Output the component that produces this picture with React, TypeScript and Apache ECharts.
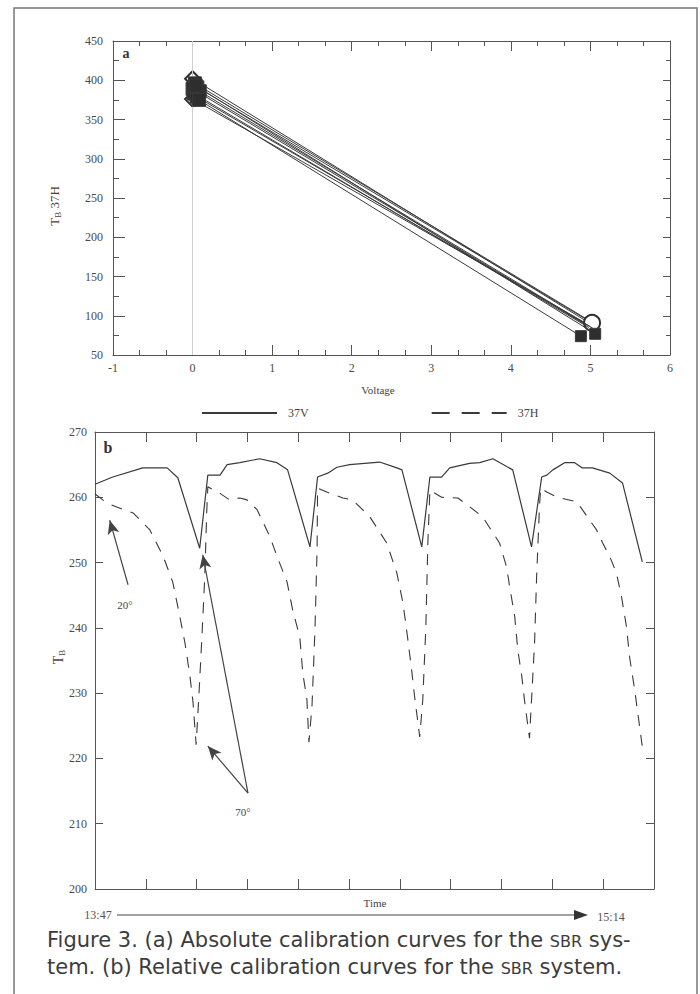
import React, { useEffect, useRef } from 'react';
import * as echarts from 'echarts';

// ---- Chart (a): absolute calibration lines (T_B 37H vs voltage) ----
const hotVoltage = [0.0, 0.0, 0.03, 0.06, 0.0, 0.09, 0.02, 0.05, 0.08, 0.04];
const hotTB = [402, 376, 396, 391, 389, 386, 383, 379, 375, 393];
const hotSymbol = ['emptyDiamond', 'emptyDiamond', 'rect', 'rect', 'rect', 'rect', 'rect', 'rect', 'rect', 'rect'];
const coldVoltage = [5.0, 4.97, 5.0, 5.02, 4.95, 5.0, 4.98, 5.03, 4.88, 5.06];
const coldTB = [90, 89, 93, 91, 88, 86, 85, 84, 74, 77];
const coldSymbol = ['none', 'none', 'none', 'emptyCircle', 'none', 'none', 'none', 'none', 'rect', 'rect'];
const voltageTicks = [-1, 6, 1];
const tbTicksA = [50, 450, 50];

// ---- Chart (b): relative calibration curves ----
const time37V = [0, 3.5, 9.4, 14.2, 16.3, 20.6, 22.2, 24.6, 26.0, 28.5, 32.4, 35.8, 37.9, 42.3, 43.8, 45.8, 47.6, 50.1, 56.0, 59.4, 60.4, 64.3, 65.9, 68.2, 69.8, 73.7, 75.7, 78.3, 82.2, 85.9, 87.9, 88.9, 90.1, 92.4, 94.4, 95.9, 97.9, 101.3, 103.8, 107.7];
const tb37V = [262, 263.1, 264.5, 264.5, 263, 252.2, 263.4, 263.4, 265, 265.3, 265.9, 265.3, 264.2, 252.4, 263.1, 263.7, 264.6, 265, 265.4, 264.5, 264.2, 252.4, 263.1, 263.1, 264.5, 265.2, 265.3, 265.9, 264.2, 252.4, 263.1, 263.4, 264.2, 265.3, 265.3, 264.5, 264.5, 263.7, 262.2, 250.1];
const time37H = [0, 2.4, 4.3, 7.5, 10.8, 13.4, 15.3, 16.7, 17.7, 18.7, 19.3, 19.9, 20.4, 21.0, 21.6, 22.0, 22.2, 24.6, 26.5, 28.5, 29.9, 31.9, 34.4, 35.8, 37.8, 38.9, 40.3, 40.9, 41.7, 42.1, 42.7, 43.3, 43.7, 43.8, 45.6, 48.8, 50.7, 54.1, 57.4, 59.4, 60.6, 61.5, 62.3, 62.9, 63.9, 64.5, 65.1, 65.5, 65.9, 68.2, 71.4, 73.3, 76.3, 79.6, 81.0, 81.6, 82.6, 83.2, 84.0, 84.5, 85.5, 85.9, 86.5, 86.9, 87.5, 87.7, 88.9, 91.0, 94.8, 95.9, 98.7, 99.9, 101.3, 102.6, 103.6, 104.6, 105.2, 106.2, 107.7];
const tb37H = [260.5, 259.1, 258.5, 257.6, 255, 251, 247, 241.7, 237.7, 232.5, 228.5, 222.1, 229, 238, 247.8, 258, 261.6, 260.6, 259.6, 259.9, 259.6, 258.1, 254, 251, 247, 242.7, 238.6, 233, 229, 222.5, 228, 240, 252, 261.4, 260.8, 259.9, 259.6, 257, 253, 248.4, 243.8, 238.6, 233.6, 229.4, 223.3, 229, 240, 253, 261.1, 260, 259.9, 258.8, 257, 253, 249.3, 246.3, 241.7, 236.6, 232.5, 229, 223.1, 229, 237.7, 247.8, 259.1, 261.4, 260.8, 260, 259.3, 258.1, 255, 253, 250.9, 248.4, 244.8, 240.1, 235.5, 230.5, 221.8];
const timeTicks = [0, 110, 10];
const tbTicksB = [200, 270, 10];

// annotation arrows (data coordinates of chart b)
const arrowFrom = [[6.5, 246.6], [30.1, 214.7], [30.1, 214.7]];
const arrowTo = [[2.9, 256.5], [21.2, 251.2], [22.2, 221.9]];
const angleLabels = ['20°', '70°'];
const angleLabelPos = [[5.9, 243.5], [29.1, 211.8]];

const SERIF = '"Liberation Serif", "DejaVu Serif", serif';
const CAPTION = '"DejaVu Sans", "Liberation Sans", sans-serif';
const INK = '#3a3a3a';
const AXIS = '#555';
const LABEL = '#4a4a4a';

export default function App() {
  const ref = useRef<HTMLDivElement>(null);
  useEffect(() => {
    if (!ref.current) return;
    const chart = echarts.init(ref.current, undefined, { renderer: 'svg' });

    const labelStyle = { fontFamily: SERIF, fontSize: 12, color: LABEL };
    const axisLine = { show: true, onZero: false, lineStyle: { color: AXIS, width: 1 } };

    const seriesA: any[] = hotTB.map((h, i) => ({
      type: 'line',
      xAxisIndex: 0,
      yAxisIndex: 0,
      silent: true,
      lineStyle: { color: INK, width: 1 },
      itemStyle: { color: '#2e2e2e', borderColor: INK, borderWidth: 1 },
      data: [
        { value: [hotVoltage[i], h], symbol: hotSymbol[i], symbolSize: hotSymbol[i] === 'rect' ? 13 : 15 },
        { value: [coldVoltage[i], coldTB[i]], symbol: coldSymbol[i], symbolSize: coldSymbol[i] === 'rect' ? 11 : 16 },
      ],
      markLine: i === 0 ? {
        silent: true,
        symbol: 'none',
        label: { show: false },
        lineStyle: { color: '#cfcfcf', width: 1, type: 'solid' },
        data: [{ xAxis: 0 }],
      } : undefined,
      z: 3 + i,
    }));

    const capRich = {
      n: { fontFamily: CAPTION, fontSize: 21, fill: '#3c3c3c', verticalAlign: 'bottom', lineHeight: 26 },
      c: { fontFamily: CAPTION, fontSize: 16, fill: '#3c3c3c', verticalAlign: 'bottom', lineHeight: 26, padding: [0, 0, 1, 0] },
    };

    const option: any = {
      animation: false,
      backgroundColor: '#fff',
      textStyle: { color: LABEL, fontFamily: SERIF },
      grid: [
        { left: 113, top: 41, width: 557, height: 314 },
        { left: 95, top: 432, width: 559, height: 457 },
      ],
      xAxis: [
        {
          gridIndex: 0, type: 'value', min: voltageTicks[0], max: voltageTicks[1], interval: voltageTicks[2],
          axisLine, axisTick: { inside: true, length: 10, lineStyle: { color: AXIS } },
          minorTick: { show: true, splitNumber: 3, length: 5, lineStyle: { color: AXIS } },
          axisLabel: { ...labelStyle, margin: 7 }, splitLine: { show: false },
        },
        {
          gridIndex: 0, type: 'value', position: 'top', min: voltageTicks[0], max: voltageTicks[1], interval: voltageTicks[2],
          axisLine, axisTick: { inside: true, length: 10, lineStyle: { color: AXIS } },
          minorTick: { show: true, splitNumber: 3, length: 5, lineStyle: { color: AXIS } },
          axisLabel: { show: false }, splitLine: { show: false },
        },
        {
          gridIndex: 1, type: 'value', min: timeTicks[0], max: timeTicks[1], interval: timeTicks[2],
          axisLine, axisTick: { inside: true, length: 10, lineStyle: { color: AXIS } },
          axisLabel: { show: false }, splitLine: { show: false },
        },
        {
          gridIndex: 1, type: 'value', position: 'top', min: timeTicks[0], max: timeTicks[1], interval: timeTicks[2],
          axisLine, axisTick: { inside: true, length: 10, lineStyle: { color: AXIS } },
          axisLabel: { show: false }, splitLine: { show: false },
        },
      ],
      yAxis: [
        {
          gridIndex: 0, type: 'value', min: tbTicksA[0], max: tbTicksA[1], interval: tbTicksA[2],
          axisLine, axisTick: { inside: true, length: 12, lineStyle: { color: AXIS } },
          minorTick: { show: true, splitNumber: 2, length: 6, lineStyle: { color: AXIS } },
          axisLabel: { ...labelStyle, margin: 10 }, splitLine: { show: false },
        },
        {
          gridIndex: 0, type: 'value', position: 'right', min: tbTicksA[0], max: tbTicksA[1], interval: tbTicksA[2],
          axisLine, axisTick: { inside: true, length: 7, lineStyle: { color: AXIS } },
          minorTick: { show: true, splitNumber: 2, length: 4, lineStyle: { color: AXIS } },
          axisLabel: { show: false }, splitLine: { show: false },
        },
        {
          gridIndex: 1, type: 'value', min: tbTicksB[0], max: tbTicksB[1], interval: tbTicksB[2],
          axisLine, axisTick: { inside: true, length: 8, lineStyle: { color: AXIS } },
          axisLabel: { ...labelStyle, margin: 8 }, splitLine: { show: false },
        },
        {
          gridIndex: 1, type: 'value', position: 'right', min: tbTicksB[0], max: tbTicksB[1], interval: tbTicksB[2],
          axisLine, axisTick: { inside: true, length: 8, lineStyle: { color: AXIS } },
          axisLabel: { show: false }, splitLine: { show: false },
        },
      ],
      legend: {
        data: [
          { name: '37V' },
          { name: '37H', lineStyle: { type: [18, 12] } },
        ],
        left: 196,
        top: 402,
        itemWidth: 75,
        itemHeight: 10,
        itemGap: 122,
        selectedMode: false,
        itemStyle: { opacity: 0 },
        textStyle: { fontFamily: SERIF, fontSize: 12, color: '#444', padding: [0, 0, 0, 6] },
      },
      series: [
        ...seriesA,
        {
          name: '37V', type: 'line', xAxisIndex: 2, yAxisIndex: 2, symbol: 'none', silent: true,
          lineStyle: { color: INK, width: 1.2 },
          itemStyle: { color: INK },
          data: time37V.map((t, i) => [t, tb37V[i]]),
          markLine: {
            silent: true,
            symbol: ['none', 'arrow'],
            symbolSize: [9, 14],
            label: { show: false },
            lineStyle: { color: '#444', width: 1.2, type: 'solid' },
            data: arrowFrom.map((f, i) => [{ coord: f }, { coord: arrowTo[i] }]),
          },
          markPoint: {
            silent: true,
            symbol: 'circle',
            symbolSize: 0,
            label: { show: true, position: 'inside', fontFamily: SERIF, fontSize: 11, color: '#444' },
            data: angleLabels.map((l, i) => ({ coord: angleLabelPos[i], value: l, label: { formatter: l } })),
          },
        },
        {
          name: '37H', type: 'line', xAxisIndex: 2, yAxisIndex: 2, symbol: 'none', silent: true,
          lineStyle: { color: INK, width: 1.1, type: [11, 9] },
          itemStyle: { color: INK },
          data: time37H.map((t, i) => [t, tb37H[i]]),
        },
      ],
      graphic: [
        { type: 'rect', shape: { x: 14, y: 8, width: 683, height: 1000 }, style: { fill: 'none', stroke: '#777', lineWidth: 1.5 }, silent: true },
        { type: 'text', x: 126, y: 53, style: { text: 'a', font: `bold 14px ${SERIF}`, fill: '#333', align: 'center', verticalAlign: 'middle' } },
        { type: 'text', x: 108, y: 447, style: { text: 'b', font: `bold 16px ${SERIF}`, fill: '#333', align: 'center', verticalAlign: 'middle' } },
        { type: 'text', x: 378, y: 390, style: { text: 'Voltage', font: `11px ${SERIF}`, fill: '#444', align: 'center', verticalAlign: 'middle' } },
        { type: 'text', x: 375, y: 903, style: { text: 'Time', font: `11px ${SERIF}`, fill: '#444', align: 'center', verticalAlign: 'middle' } },
        {
          type: 'text', x: 54, y: 206, rotation: Math.PI / 2,
          style: {
            text: '{t|T}{s|B}{t| 37H}', align: 'center', verticalAlign: 'middle', fill: '#444',
            rich: {
              t: { fontFamily: SERIF, fontSize: 13, fill: '#444', verticalAlign: 'middle' },
              s: { fontFamily: SERIF, fontSize: 9, fill: '#444', padding: [8, 0, 0, 0] },
            },
          },
        },
        {
          type: 'text', x: 58, y: 657, rotation: Math.PI / 2,
          style: {
            text: '{t|T}{s|B}', align: 'center', verticalAlign: 'middle', fill: '#444',
            rich: {
              t: { fontFamily: SERIF, fontSize: 14, fill: '#444' },
              s: { fontFamily: SERIF, fontSize: 9, fill: '#444', padding: [8, 0, 0, 0] },
            },
          },
        },
        { type: 'line', shape: { x1: 117, y1: 915, x2: 578, y2: 915 }, style: { stroke: '#444', lineWidth: 1.2 } },
        { type: 'polygon', shape: { points: [[574, 910], [588, 915], [574, 920]] }, style: { fill: '#333' } },
        { type: 'text', x: 98, y: 915, style: { text: '13:47', font: `12px ${SERIF}`, fill: '#555', align: 'center', verticalAlign: 'middle' } },
        { type: 'text', x: 611, y: 917, style: { text: '15:14', font: `12px ${SERIF}`, fill: '#555', align: 'center', verticalAlign: 'middle' } },
        {
          type: 'text', x: 47, y: 937,
          style: {
            text: '{n|Figure 3. (a) Absolute calibration curves for the }{c|SBR}{n| sys-}',
            verticalAlign: 'middle', align: 'left',
            rich: capRich,
          },
        },
        {
          type: 'text', x: 47, y: 964,
          style: {
            text: '{n|tem. (b) Relative calibration curves for the }{c|SBR}{n| system.}',
            verticalAlign: 'middle', align: 'left',
            rich: capRich,
          },
        },
      ],
    };
    chart.setOption(option);
    return () => chart.dispose();
  }, []);

  return <div ref={ref} style={{ position: 'absolute', left: 0, top: 0, width: 700, height: 994 }} />;
}
